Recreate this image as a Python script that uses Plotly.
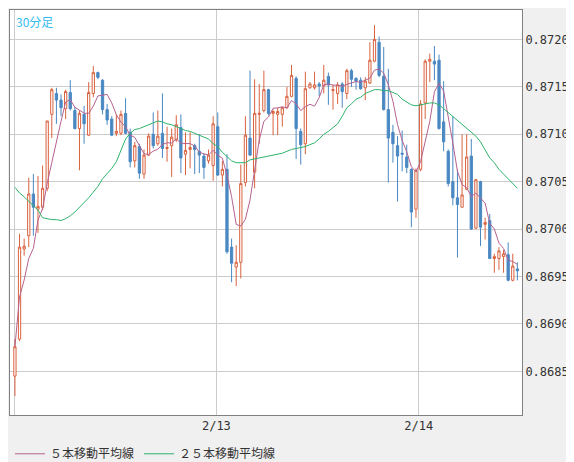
import pandas as pd
import plotly.graph_objects as go

# 30-minute bars, index 0 = first bar on the chart
OPEN = [0.86845, 0.86884, 0.86979, 0.86993, 0.87037, 0.87021, 0.87023, 0.87043, 0.87121, 0.87143,
        0.87136, 0.87127, 0.87144, 0.87125, 0.87106, 0.87121, 0.87099, 0.87143, 0.87165, 0.87157,
        0.87126, 0.87116, 0.87101, 0.87101, 0.87122, 0.87102, 0.87072, 0.87087, 0.87058, 0.87078,
        0.87100, 0.87090, 0.87101, 0.87085, 0.87088, 0.87094, 0.87107, 0.87079, 0.87084, 0.87088,
        0.87082, 0.87077, 0.87072, 0.87067, 0.87108, 0.87057, 0.87063, 0.86981, 0.86960, 0.86965,
        0.87049, 0.87096, 0.87060, 0.87121, 0.87125, 0.87147, 0.87122, 0.87121, 0.87121, 0.87128,
        0.87140, 0.87159, 0.87103, 0.87090, 0.87149, 0.87149, 0.87153, 0.87151, 0.87161, 0.87146,
        0.87143, 0.87153, 0.87143, 0.87167, 0.87159, 0.87157, 0.87149, 0.87154, 0.87177, 0.87197,
        0.87161, 0.87126, 0.87102, 0.87088, 0.87080, 0.87076, 0.87063, 0.87021, 0.87063, 0.87133,
        0.87177, 0.87177, 0.87178, 0.87113, 0.87082, 0.87050, 0.87033, 0.87023, 0.87042, 0.87077,
        0.87001, 0.87050, 0.87005, 0.87009, 0.86969, 0.86969, 0.86971, 0.86973, 0.86946, 0.86958]
HIGH = [0.86884, 0.86995, 0.86990, 0.87054, 0.87058, 0.87056, 0.87067, 0.87114, 0.87149, 0.87149,
        0.87142, 0.87147, 0.87157, 0.87129, 0.87125, 0.87130, 0.87155, 0.87172, 0.87166, 0.87158,
        0.87132, 0.87119, 0.87121, 0.87125, 0.87138, 0.87106, 0.87092, 0.87090, 0.87084, 0.87101,
        0.87123, 0.87125, 0.87143, 0.87108, 0.87106, 0.87120, 0.87121, 0.87102, 0.87102, 0.87090,
        0.87100, 0.87080, 0.87084, 0.87119, 0.87123, 0.87072, 0.87079, 0.86990, 0.86983, 0.87068,
        0.87119, 0.87167, 0.87158, 0.87153, 0.87167, 0.87148, 0.87126, 0.87128, 0.87129, 0.87150,
        0.87173, 0.87161, 0.87106, 0.87166, 0.87155, 0.87166, 0.87155, 0.87173, 0.87165, 0.87152,
        0.87155, 0.87155, 0.87169, 0.87169, 0.87160, 0.87160, 0.87160, 0.87197, 0.87215, 0.87203,
        0.87192, 0.87169, 0.87110, 0.87098, 0.87104, 0.87089, 0.87064, 0.87064, 0.87136, 0.87179,
        0.87185, 0.87193, 0.87184, 0.87156, 0.87084, 0.87119, 0.87063, 0.87100, 0.87100, 0.87095,
        0.87053, 0.87051, 0.87012, 0.87016, 0.86974, 0.86981, 0.86978, 0.86986, 0.86974, 0.86965]
LOW = [0.86824, 0.86882, 0.86972, 0.86981, 0.86993, 0.86996, 0.87020, 0.87040, 0.87096, 0.87111,
       0.87119, 0.87116, 0.87125, 0.87105, 0.87062, 0.87090, 0.87098, 0.87139, 0.87158, 0.87121,
       0.87110, 0.87098, 0.87098, 0.87099, 0.87100, 0.87065, 0.87065, 0.87053, 0.87053, 0.87077,
       0.87085, 0.87088, 0.87075, 0.87071, 0.87055, 0.87092, 0.87059, 0.87057, 0.87064, 0.87058,
       0.87059, 0.87053, 0.87069, 0.87051, 0.87056, 0.87045, 0.86974, 0.86944, 0.86940, 0.86948,
       0.87045, 0.87077, 0.87043, 0.87090, 0.87123, 0.87120, 0.87099, 0.87099, 0.87108, 0.87127,
       0.87139, 0.87074, 0.87068, 0.87079, 0.87148, 0.87147, 0.87140, 0.87143, 0.87131, 0.87126,
       0.87132, 0.87128, 0.87137, 0.87150, 0.87147, 0.87147, 0.87136, 0.87153, 0.87176, 0.87160,
       0.87125, 0.87049, 0.87070, 0.87029, 0.87061, 0.87059, 0.87002, 0.87012, 0.87061, 0.87116,
       0.87155, 0.87157, 0.87105, 0.87082, 0.87045, 0.87025, 0.86970, 0.87023, 0.87041, 0.86999,
       0.87000, 0.86982, 0.86989, 0.86969, 0.86954, 0.86957, 0.86954, 0.86945, 0.86945, 0.86946]
CLOSE = [0.86876, 0.86981, 0.86982, 0.87037, 0.87023, 0.87024, 0.87043, 0.87114, 0.87147, 0.87136,
         0.87128, 0.87145, 0.87127, 0.87106, 0.87122, 0.87111, 0.87144, 0.87165, 0.87160, 0.87126,
         0.87115, 0.87099, 0.87103, 0.87121, 0.87101, 0.87071, 0.87088, 0.87059, 0.87078, 0.87098,
         0.87088, 0.87098, 0.87085, 0.87086, 0.87097, 0.87110, 0.87075, 0.87083, 0.87086, 0.87084,
         0.87078, 0.87065, 0.87078, 0.87111, 0.87057, 0.87063, 0.86976, 0.86964, 0.86965, 0.87048,
         0.87099, 0.87078, 0.87122, 0.87122, 0.87147, 0.87122, 0.87124, 0.87124, 0.87128, 0.87140,
         0.87162, 0.87106, 0.87089, 0.87148, 0.87153, 0.87152, 0.87151, 0.87157, 0.87152, 0.87147,
         0.87152, 0.87145, 0.87167, 0.87158, 0.87156, 0.87148, 0.87156, 0.87178, 0.87200, 0.87162,
         0.87126, 0.87096, 0.87090, 0.87077, 0.87079, 0.87065, 0.87018, 0.87062, 0.87132, 0.87177,
         0.87179, 0.87174, 0.87106, 0.87092, 0.87048, 0.87033, 0.87026, 0.87036, 0.87076, 0.87000,
         0.87052, 0.87002, 0.87007, 0.86969, 0.86971, 0.86977, 0.86974, 0.86946, 0.86961, 0.86956]
MA25 = [0.87044, 0.87038, 0.87034, 0.87029, 0.87025, 0.87020, 0.87012, 0.87011, 0.87010, 0.87010,
        0.87009, 0.87011, 0.87014, 0.87018, 0.87023, 0.87027, 0.87033, 0.87039, 0.87045, 0.87053,
        0.87058, 0.87064, 0.87071, 0.87083, 0.87095, 0.87101, 0.87105, 0.87106, 0.87108, 0.87110,
        0.87112, 0.87114, 0.87113, 0.87111, 0.87110, 0.87108, 0.87106, 0.87104, 0.87103, 0.87101,
        0.87099, 0.87097, 0.87095, 0.87090, 0.87087, 0.87081, 0.87076, 0.87072, 0.87070, 0.87070,
        0.87070, 0.87073, 0.87074, 0.87075, 0.87076, 0.87077, 0.87078, 0.87079, 0.87080, 0.87082,
        0.87084, 0.87085, 0.87086, 0.87087, 0.87089, 0.87091, 0.87095, 0.87100, 0.87103, 0.87107,
        0.87111, 0.87119, 0.87128, 0.87132, 0.87137, 0.87139, 0.87143, 0.87145, 0.87147, 0.87147,
        0.87146, 0.87146, 0.87144, 0.87142, 0.87137, 0.87134, 0.87131, 0.87130, 0.87131, 0.87132,
        0.87133, 0.87133, 0.87131, 0.87127, 0.87123, 0.87119, 0.87114, 0.87111, 0.87106, 0.87102,
        0.87098, 0.87092, 0.87084, 0.87075, 0.87070, 0.87063, 0.87058, 0.87053, 0.87048, 0.87043]
DAY_TICKS = [0, 43.7, 87.6]
DAY_LABELS = ["", "2/13", "2/14"]
PRICE_TICKS = [0.8685, 0.8690, 0.8695, 0.8700, 0.8705, 0.8710, 0.8715, 0.8720]

df = pd.DataFrame({"open": OPEN, "high": HIGH, "low": LOW, "close": CLOSE, "ma25": MA25})
df["ma5"] = df["close"].rolling(5, min_periods=1).mean()
x = list(range(len(df)))

fig = go.Figure()
fig.add_trace(go.Candlestick(
    x=x, open=df["open"], high=df["high"], low=df["low"], close=df["close"],
    increasing=dict(line=dict(color="#d9623f", width=1), fillcolor="white"),
    decreasing=dict(line=dict(color="#4a88c2", width=1), fillcolor="#4a88c2"),
    whiskerwidth=0, showlegend=False, hoverinfo="skip"))
fig.add_trace(go.Scatter(x=x, y=df["ma5"], mode="lines", name="５本移動平均線",
                         line=dict(color="#b5628f", width=1)))
fig.add_trace(go.Scatter(x=x, y=df["ma25"], mode="lines", name="２５本移動平均線",
                         line=dict(color="#2db36c", width=1)))

fig.update_layout(
    width=574, height=462, autosize=False,
    margin=dict(l=2, r=60, t=2, b=51),
    paper_bgcolor="#f0f0f0", plot_bgcolor="white",
    font=dict(family="DejaVu Sans Mono", size=12, color="#333"),
    legend=dict(orientation="h", x=0.0, y=-0.06, xanchor="left", yanchor="top",
                font=dict(family="Noto Sans CJK JP", size=12, color="#333"),
                bgcolor="rgba(0,0,0,0)"),
    annotations=[dict(text="30分足", xref="paper", yref="paper", x=0.008, y=0.998,
                      xanchor="left", yanchor="top", showarrow=False,
                      font=dict(family="Noto Sans CJK JP", size=12, color="#33bbee"))],
)
fig.update_xaxes(range=[-1.07, 110.0], tickvals=DAY_TICKS, ticktext=DAY_LABELS,
                 rangeslider_visible=False, showgrid=True, gridcolor="#cccccc",
                 showline=True, linecolor="#808080", mirror=True, ticks="", zeroline=False)
fig.update_yaxes(range=[0.86804, 0.87231], side="right", tickvals=PRICE_TICKS,
                 tickformat=".4f", showgrid=True, gridcolor="#cccccc",
                 showline=True, linecolor="#808080", mirror=True, ticks="", zeroline=False)

fig.write_html("out.html", config={"responsive": False})
